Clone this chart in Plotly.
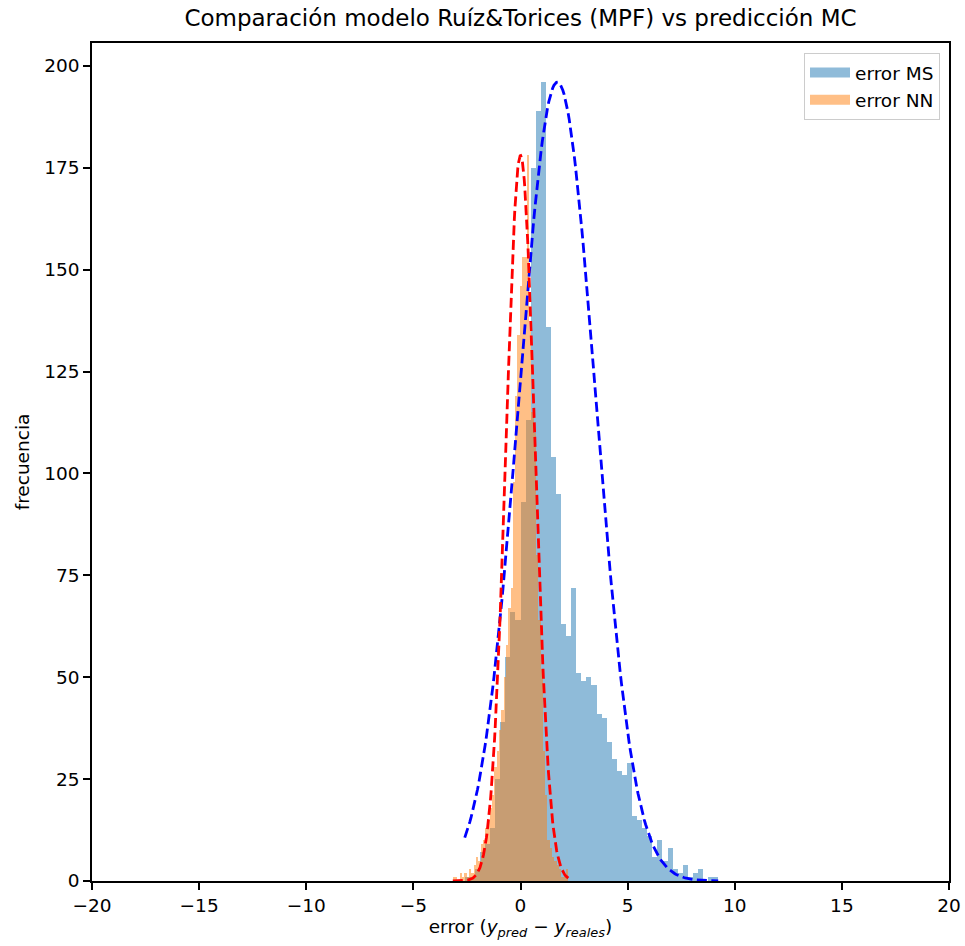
import numpy as np
import plotly.graph_objects as go

# ---- data ----
ms_bin_start = -2.6015
ms_bin_width = 0.2366
ms_counts = [1, 1, 3, 7, 9, 13, 25, 39, 55, 66,
             64, 93, 113, 175, 189, 196, 136, 104, 95, 63,
             60, 72, 51, 49, 50, 48, 41, 40, 34, 30,
             27, 26, 29, 16, 15, 13, 11, 6, 10, 5,
             8, 3, 2, 4, 1, 2, 3, 0, 1, 1]

nn_bin_start = -3.16
nn_bin_width = 0.1078
nn_counts = [1, 1, 0, 2, 1, 2, 1, 3, 2, 4,
             6, 5, 9, 10, 13, 15, 18, 21, 28, 32,
             37, 42, 50, 58, 67, 72, 98, 119, 134, 146,
             153, 153, 178, 135, 115, 110, 80, 64, 52, 32,
             21, 10, 8, 6, 5, 4, 3, 1, 1, 3]

# fitted normal curves (mean, std) scaled to histogram maximum
ms_mu, ms_sigma = 1.72, 1.79
nn_mu, nn_sigma = 0.0, 0.67

x_ticks = [-20, -15, -10, -5, 0, 5, 10, 15, 20]
y_ticks = [0, 25, 50, 75, 100, 125, 150, 175, 200]

ms_color = "rgba(31,119,180,0.5)"
nn_color = "rgba(255,127,14,0.5)"

# ---- derived ----
ms_n = len(ms_counts)
nn_n = len(nn_counts)
ms_centers = ms_bin_start + ms_bin_width * (np.arange(ms_n) + 0.5)
nn_centers = nn_bin_start + nn_bin_width * (np.arange(nn_n) + 0.5)

ms_x = np.linspace(ms_bin_start, ms_bin_start + ms_bin_width * ms_n, 200)
nn_x = np.linspace(nn_bin_start, nn_bin_start + nn_bin_width * nn_n, 200)
ms_curve = max(ms_counts) * np.exp(-0.5 * ((ms_x - ms_mu) / ms_sigma) ** 2)
nn_curve = max(nn_counts) * np.exp(-0.5 * ((nn_x - nn_mu) / nn_sigma) ** 2)

fig = go.Figure()
fig.add_trace(go.Bar(x=ms_centers, y=ms_counts, width=ms_bin_width,
                     marker=dict(color=ms_color, line=dict(width=0)),
                     name="error MS", showlegend=False))
fig.add_trace(go.Bar(x=nn_centers, y=nn_counts, width=nn_bin_width,
                     marker=dict(color=nn_color, line=dict(width=0)),
                     name="error NN", showlegend=False))
fig.add_trace(go.Scatter(x=ms_x, y=ms_curve, mode="lines",
                         line=dict(color="#0000ff", width=2.8, dash="10px,4.5px"),
                         showlegend=False, hoverinfo="skip"))
fig.add_trace(go.Scatter(x=nn_x, y=nn_curve, mode="lines",
                         line=dict(color="#ff0000", width=2.8, dash="10px,4.5px"),
                         showlegend=False, hoverinfo="skip"))
# legend entries drawn as wide patches (like matplotlib)
fig.add_trace(go.Scatter(x=[None], y=[None], mode="lines", name="error MS",
                         line=dict(color=ms_color, width=13), legendgroup="a"))
fig.add_trace(go.Scatter(x=[None], y=[None], mode="lines", name="error NN",
                         line=dict(color=nn_color, width=13), legendgroup="b"))

font = "DejaVu Sans, Arial, sans-serif"
fs = 18.5
fig.update_layout(
    width=965, height=946,
    margin=dict(l=92, r=16, t=43, b=65, autoexpand=False),
    paper_bgcolor="white", plot_bgcolor="white",
    barmode="overlay", bargap=0,
    font=dict(family=font, size=fs, color="black"),
    title=dict(text="Comparación modelo Ruíz&Torices (MPF) vs predicción MC",
               x=520.5 / 965, xref="container", xanchor="center",
               y=1 - 18 / 946, yref="container", yanchor="middle",
               font=dict(family=font, size=23, color="black")),
    legend=dict(x=0.9895, y=0.988, xanchor="right", yanchor="top",
                bgcolor="rgba(255,255,255,0.8)", bordercolor="#cccccc", borderwidth=1,
                font=dict(family=font, size=fs), traceorder="normal",
                itemwidth=40, tracegroupgap=5),
    xaxis=dict(range=[-20, 20], tickvals=x_ticks,
               ticktext=[str(v).replace("-", "−") for v in x_ticks],
               showgrid=False, zeroline=False, showline=True, mirror=True,
               linecolor="black", linewidth=1.5, ticks="outside", ticklen=7,
               tickwidth=1.5, tickcolor="black", ticklabeloverflow="allow",
               automargin=False,
               title=dict(text="error (<i>y</i><sub><i>pred</i></sub> − <i>y</i><sub><i>reales</i></sub>)",
                          font=dict(family=font, size=fs), standoff=4)),
    yaxis=dict(range=[0, 205.6], tickvals=y_ticks,
               showgrid=False, zeroline=False, showline=True, mirror=True,
               linecolor="black", linewidth=1.5, ticks="outside", ticklen=7,
               tickwidth=1.5, tickcolor="black", automargin=False,
               title=dict(text="frecuencia", font=dict(family=font, size=fs), standoff=10)),
)

fig.write_html("out.html", config={"displayModeBar": False},
               post_script="document.body.style.margin='0px';document.body.style.overflow='hidden';")
